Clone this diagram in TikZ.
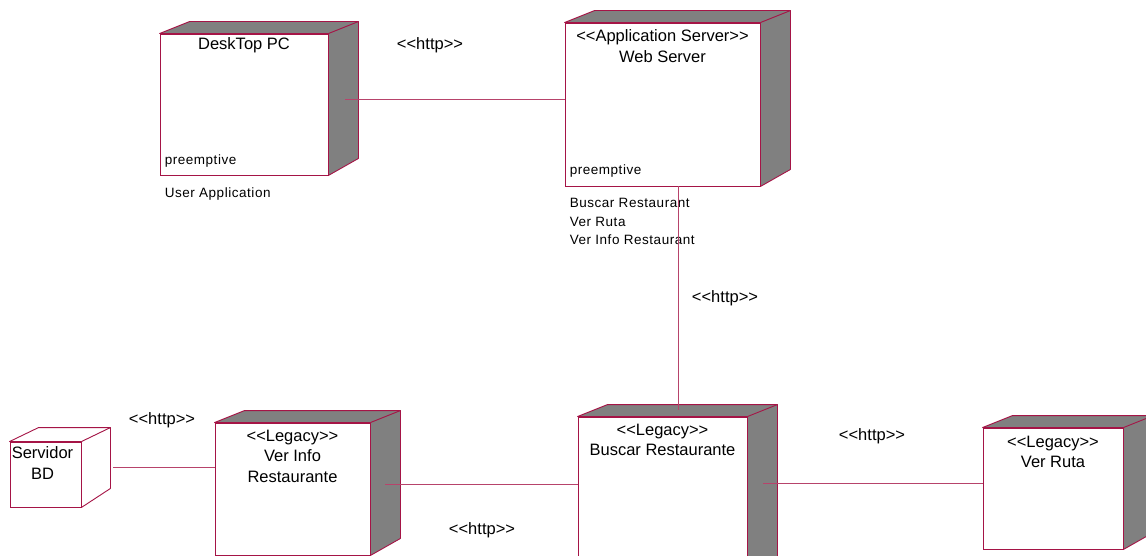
\documentclass[tikz,border=0pt]{standalone}
\usepackage{fontspec}
\setmainfont{Liberation Sans}
\newfontfamily\notefont[LetterSpace=4]{Liberation Sans}
\usetikzlibrary{positioning}
\definecolor{umlred}{RGB}{165,20,70}
\definecolor{sidegrey}{RGB}{128,128,128}
\newcommand{\stereo}[1]{<{}<#1>{}>}

\begin{document}
\begin{tikzpicture}[x=1pt,y=-1pt]
\tikzstyle{face}=[draw=umlred,fill=white,line width=0.9pt,inner sep=0pt]
\tikzstyle{shade}=[draw=umlred,fill=sidegrey,line width=0.9pt,line join=round]
\tikzstyle{link}=[draw=umlred!80,line width=0.7pt]
\tikzstyle{title}=[inner sep=0pt,align=center,font=\fontsize{16.5}{20.5}\selectfont]
\tikzstyle{note}=[inner sep=0pt,align=left,font=\notefont\fontsize{13.5}{18.5}\selectfont]
\useasboundingbox (0,0) rectangle (1146,556);

\node [face,minimum width=168pt,minimum height=141pt] at (244,104.5) (desk) {};
\node [face,minimum width=195pt,minimum height=163pt] at (662.5,104.5) (web) {};
\node [face,minimum width=71pt,minimum height=65pt] at (45.5,474.5) (bd) {};
\node [face,minimum width=155pt,minimum height=132pt] at (292.5,489) (info) {};
\node [face,minimum width=169pt,minimum height=183pt] at (662.5,508.5) (buscar) {};
\node [face,minimum width=140pt,minimum height=121pt] at (1053,488.5) (ruta) {};

\foreach \n in {desk,web,info,buscar,ruta} {
  \draw [shade] (\n.north west) -- ++(30,-12) -- ([shift={(30,-12)}]\n.north east)
    -- ([shift={(30,-17)}]\n.south east) -- (\n.south east) -- (\n.north east) -- cycle;
  \draw [shade] (\n.north east) -- ++(30,-12);
}
\draw [shade,fill=white] (bd.north west) -- ++(29,-14) -- ([shift={(29,-14)}]bd.north east)
  -- ([shift={(29,-19)}]bd.south east) -- (bd.south east) -- (bd.north east) -- cycle;
\draw [shade] (bd.north east) -- ++(29,-14);

\node [title,below=4pt of desk.north] (desktitle) {DeskTop PC};
\node [title,below=7pt of web.north] (webtitle) {\stereo{Application Server}\\Web Server};
\node [title,below=5pt of bd.north,xshift=-3pt] (bdtitle) {Servidor\\BD};
\node [title,below=7pt of info.north] (infotitle) {\stereo{Legacy}\\Ver Info\\Restaurante};
\node [title,below=7pt of buscar.north] (buscartitle) {\stereo{Legacy}\\Buscar Restaurante};
\node [title,below=8pt of ruta.north] (rutatitle) {\stereo{Legacy}\\Ver Ruta};

\node [note,anchor=base west] at ([shift={(5,-11)}]desk.south west) (deskmode) {preemptive};
\node [note,anchor=base west] at ([shift={(5,22)}]desk.south west) (deskapp) {User Application};
\node [note,anchor=base west] at ([shift={(5,-12)}]web.south west) (webmode) {preemptive};
\node [note,anchor=north west] at ([shift={(5,12)}]web.south west) (webapp) {Buscar Restaurant\\Ver Ruta\\Ver Info Restaurant};

\draw [link] ([shift={(17,-5.5)}]desk.east) -- ([shift={(0,-5.5)}]web.west);
\draw [link] ([xshift=15.5pt]web.south) -- ([shift={(15.5,-7)}]buscar.north);
\draw [link] ([shift={(32,-7.5)}]bd.east) -- ([shift={(0,-22)}]info.west);
\draw [link] ([shift={(15,-5)}]info.east) -- ([shift={(0,-24.5)}]buscar.west);
\draw [link] ([shift={(16,-25.5)}]buscar.east) -- ([shift={(0,-5.5)}]ruta.west);

\node [title] at (430,45) (httpweb) {\stereo{http}};
\node [title] at (725,298) (httpbuscar) {\stereo{http}};
\node [title] at (162,420) (httpbd) {\stereo{http}};
\node [title] at (482,530) (httpinfo) {\stereo{http}};
\node [title] at (872,436) (httpruta) {\stereo{http}};
\end{tikzpicture}
\end{document}
